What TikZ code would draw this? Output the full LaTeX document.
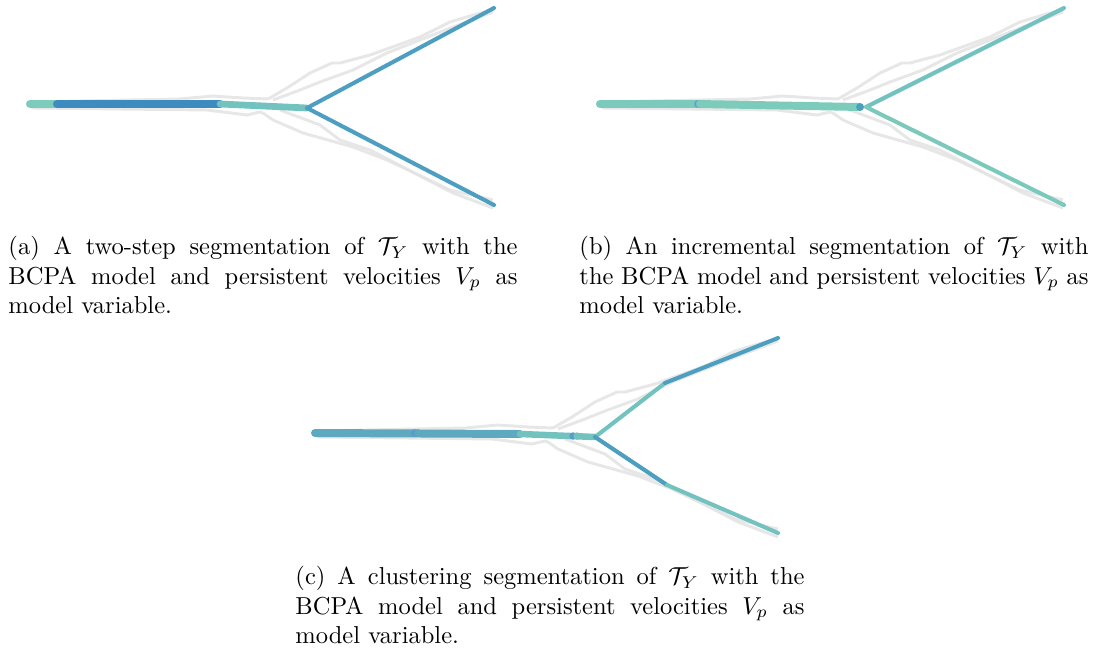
\documentclass[tikz,border=0pt]{standalone}
\usetikzlibrary{calc}
\definecolor{tealA}{HTML}{7CCBBB}
\definecolor{tealB}{HTML}{72C2C0}
\definecolor{blueA}{HTML}{3D8BBF}
\definecolor{blueB}{HTML}{4C9FC0}
\definecolor{blueC}{HTML}{5CA9C0}
\definecolor{grayT}{HTML}{E4E4E4}
\begin{document}
\begin{tikzpicture}[x=0.408pt,y=-0.408pt,
  trail/.style={draw=grayT,line width=1.2pt,line join=round,opacity=0.9},
  thick8/.style={line width=3.25pt,line cap=round},
  thick6/.style={line width=2.65pt,line cap=round},
  thin4/.style={line width=1.65pt,line cap=round},
  captext/.style={anchor=north west,inner sep=0pt,text width=207.7pt,align=justify,font=\normalsize}]
\useasboundingbox (0,0) rectangle (1094,650);
\newcommand{\trails}{%
  \draw[trail] (268,99) -- (287,88) -- (310,73) -- (332,63) -- (340,63) -- (370,55) -- (420,37) -- (450,22) -- (480,13) -- (493,10);
  \draw[trail] (273,100) -- (300,90) -- (320,82) -- (353,70) -- (387,53) -- (453,27) -- (493,12);
  \draw[trail] (263,113) -- (273,120) -- (303,133) -- (353,147) -- (387,160) -- (450,190) -- (493,200);
  \draw[trail] (280,110) -- (320,125) -- (340,140) -- (370,150) -- (403,167) -- (453,193) -- (493,208);
  \draw[trail] (32,102) -- (180,99) -- (213,96) -- (243,98) -- (268,99);
  \draw[trail] (32,108) -- (207,110) -- (247,115) -- (260,112) -- (263,113);
}
% (a)
\begin{scope}
  \trails
  \coordinate (aS) at (30,104);
  \coordinate (a1) at (57,104);
  \coordinate (a2) at (220,104);
  \coordinate (aJ) at (307,108);
  \coordinate (aU) at (494,8);
  \coordinate (aD) at (494,205);
  \draw[thick8,tealA] (aS) -- (a1);
  \draw[thick8,blueA] (a1) -- (a2);
  \draw[line width=2.75pt,line cap=round,tealB] (a2) -- (aJ);
  \draw[thin4,blueB] (aJ) -- (aU);
  \draw[thin4,blueB] (aJ) -- (aD);
\end{scope}
% (b)
\begin{scope}[shift={(570,0)}]
  \trails
  \coordinate (bS) at (30,104);
  \coordinate (b1) at (128,104);
  \coordinate (b2) at (290,107);
  \coordinate (bJ) at (296,107);
  \coordinate (bU) at (494,8);
  \coordinate (bD) at (494,205);
  \draw[thick8,tealA!90!tealB] (bS) -- (b1);
  \draw[thick8,tealA] (b1) -- (b2);
  \fill[blueA!80] (b1) circle (1.6pt);
  \fill[tealA] ($(b1)+(2,0)$) circle (1.6pt);
  \fill[blueB] (b2) circle (1.6pt);
  \draw[thin4,tealB] (bJ) -- (bU);
  \draw[thin4,tealA!80!tealB] (bJ) -- (bD);
\end{scope}
% (c)
\begin{scope}[shift={(285,329)}]
  \trails
  \coordinate (cS) at (30,104);
  \coordinate (c1) at (130,104);
  \coordinate (c2) at (235,105);
  \coordinate (c3) at (288,107);
  \coordinate (cJ) at (310,108);
  \coordinate (cU1) at (380,54);
  \coordinate (cU) at (493,9);
  \coordinate (cD1) at (382,156);
  \coordinate (cD) at (493,204);
  \draw[thick8,blueC] (cS) -- (c2);
  \fill[blueA!85] (c1) circle (1.6pt);
  \fill[blueC] ($(c1)+(3,0)$) circle (1.6pt);
  \draw[thick6,tealB] (c2) -- (cJ);
  \fill[blueA!85] (c3) circle (1.5pt);
  \fill[tealB] ($(c3)+(4,0)$) circle (1.5pt);
  \draw[thin4,tealB] (cJ) -- (cU1);
  \draw[thin4,blueB] (cU1) -- (cU);
  \draw[thin4,blueB] (cJ) -- (cD1);
  \draw[thin4,tealB] (cD1) -- (cD);
\end{scope}
% captions
\node[captext] (capA) at (8,236) {(a) A two-step segmentation of $\mathcal{T}_Y$ with the BCPA model and persistent velocities $V_p$ as model variable.};
\node[captext] (capB) at (579,236) {(b) An incremental segmentation of $\mathcal{T}_Y$ with the BCPA model and persistent velocities $V_p$ as model variable.};
\node[captext] (capC) at (295,566) {(c) A clustering segmentation of $\mathcal{T}_Y$ with the BCPA model and persistent velocities $V_p$ as model variable.};
\end{tikzpicture}
\end{document}
